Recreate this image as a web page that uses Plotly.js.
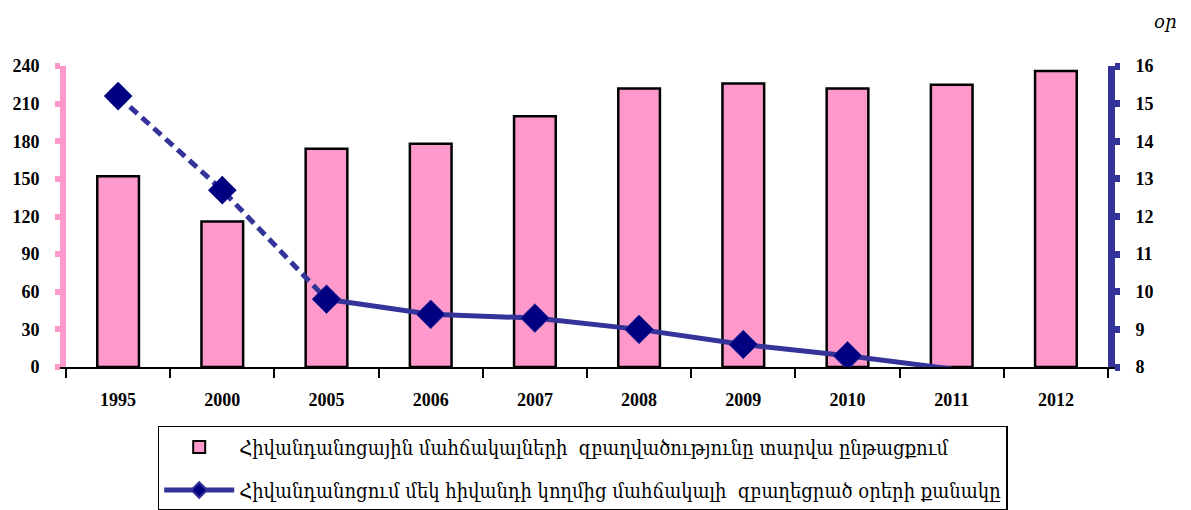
<!DOCTYPE html>
<html>
<head>
<meta charset="utf-8">
<script src="https://cdn.plot.ly/plotly-3.0.1.min.js"></script>
<style>html,body{margin:0;padding:0;background:#fff;}</style>
</head>
<body>
<div id="chart" style="width:1191px;height:510px;"></div>
<script>
var years = ["1995","2000","2005","2006","2007","2008","2009","2010","2011","2012"];
var bedOccupancy = [152, 116, 174, 178, 200, 222, 226, 222, 225, 236];
var stayYearsEarly = ["1995","2000","2005"];
var stayEarly = [15.2, 12.7, 9.8];
var stayYearsLate = ["2005","2006","2007","2008","2009","2010","2011"];
var stayLate = [9.8, 9.4, 9.3, 9.0, 8.6, 8.3, 7.95];
var leftTicks = [0, 30, 60, 90, 120, 150, 180, 210, 240];
var rightTicks = [8, 9, 10, 11, 12, 13, 14, 15, 16];
var barName = "Հիվանդանոցային մահճակալների  զբաղվածությունը տարվա ընթացքում";
var lineName = "Հիվանդանոցում մեկ հիվանդի կողմից մահճակալի  զբաղեցրած օրերի քանակը";
var unitLabel = "օր";

var tickFont = {family: "Liberation Serif, DejaVu Serif, serif", size: 18, color: "#000", weight: "bold"};
var textFont = {family: "DejaVu Serif Condensed, DejaVu Serif, serif", size: 20, color: "#000"};

var traces = [
  {
    type: "bar", x: years, y: bedOccupancy, name: barName,
    marker: {color: "#FF99CC", line: {color: "#000", width: 2.5}},
    width: 0.4, legendgroup: "a", yaxis: "y", hoverinfo: "x+y"
  },
  {
    type: "scatter", mode: "lines+markers", x: stayYearsEarly, y: stayEarly,
    yaxis: "y2", showlegend: false, legendgroup: "b",
    line: {color: "#333399", width: 5, dash: "10px,6px"},
    marker: {symbol: "diamond", size: 22, color: "#000080", opacity: 1}
  },
  {
    type: "scatter", mode: "lines+markers", x: stayYearsLate, y: stayLate,
    yaxis: "y2", name: lineName, legendgroup: "b",
    line: {color: "#333399", width: 5},
    marker: {symbol: "diamond", size: stayLate.map(function(v){ return v < 8 ? 0 : 22; }), color: "#000080", opacity: 1}
  }
];

var layout = {
  width: 1191, height: 510,
  margin: {l: 66, r: 83, t: 66, b: 143, autoexpand: false},
  paper_bgcolor: "#fff", plot_bgcolor: "#fff",
  showlegend: true,
  xaxis: {
    type: "category", range: [-0.5, 9.5], automargin: false,
    showline: true, linecolor: "#000", linewidth: 2,
    ticks: "outside", tickson: "boundaries", ticklen: 9, tickwidth: 2, tickcolor: "#000",
    tickfont: tickFont, ticklabelstandoff: 15,
    showgrid: false, zeroline: false, fixedrange: true
  },
  yaxis: {
    range: [0, 240], tickvals: leftTicks, ticktext: leftTicks.map(String), automargin: false,
    showline: true, linecolor: "#FF99CC", linewidth: 6,
    ticks: "outside", ticklen: 5, tickwidth: 6, tickcolor: "#FF99CC",
    tickfont: tickFont, ticklabelstandoff: 12,
    showgrid: false, zeroline: false, fixedrange: true
  },
  yaxis2: {
    overlaying: "y", side: "right", anchor: "x", automargin: false,
    range: [8, 16], tickvals: rightTicks, ticktext: rightTicks.map(String),
    showline: true, linecolor: "#333399", linewidth: 7,
    ticks: "outside", ticklen: 5, tickwidth: 7, tickcolor: "#333399",
    tickfont: tickFont, ticklabelstandoff: 12,
    showgrid: false, zeroline: false, fixedrange: true
  },
  legend: {
    x: 0.088, y: -0.196, xanchor: "left", yanchor: "top",
    bordercolor: "#000", borderwidth: 1.5, bgcolor: "#fff",
    font: textFont, traceorder: "grouped", tracegroupgap: 14,
    itemwidth: 70, itemsizing: "constant"
  },
  annotations: [{
    xref: "paper", yref: "paper", x: 1.055, y: 1.148,
    xanchor: "center", yanchor: "middle", showarrow: false,
    text: "<i>" + unitLabel + "</i>",
    font: {family: "DejaVu Serif, serif", size: 18, color: "#000"}
  }]
};

Plotly.newPlot("chart", traces, layout, {displayModeBar: false, staticPlot: true});
</script>
</body>
</html>
